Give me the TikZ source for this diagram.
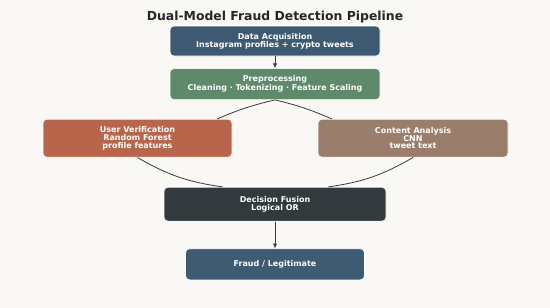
\documentclass[tikz,border=0pt]{standalone}
\usepackage{fontspec}
\setmainfont{DejaVu Sans}
\usepackage{xcolor}
\usepackage{tikz}
\usetikzlibrary{arrows.meta, positioning, calc}
\definecolor{bgcream}{RGB}{249, 248, 245}
\definecolor{acqblue}{RGB}{62, 90, 115}
\definecolor{prepgreen}{RGB}{94, 138, 107}
\definecolor{userorange}{RGB}{184, 102, 75}
\definecolor{contentbrown}{RGB}{154, 125, 107}
\definecolor{fusiondark}{RGB}{50, 58, 62}
\definecolor{outblue}{RGB}{63, 91, 114}
\definecolor{linegray}{RGB}{58, 58, 58}

\begin{document}
\begin{tikzpicture}[
    x=1pt, y=-1pt,
    block/.style={rectangle, draw=white, line width=0.6pt, rounded corners=4pt, text=white, inner sep=0pt, align=center, font=\fontsize{8}{7.8}\selectfont\bfseries},
    arrow/.style={-{Latex[length=5pt,width=4.5pt]}, line width=0.9pt, color=linegray},
    link/.style={line width=0.8pt, color=linegray}
]
    \fill[bgcream] (0,0) rectangle (550,308);
    \useasboundingbox (0,0) rectangle (550,308);

    \node[font=\fontsize{12.4}{14}\selectfont\bfseries, text=black!85] (title) at (275,17) {Dual-Model Fraud Detection Pipeline};

    \node[block, fill=acqblue, minimum width=210pt, minimum height=30pt] (acq) at (275,41) {Data Acquisition\\Instagram profiles + crypto tweets};
    \node[block, fill=prepgreen, minimum width=210pt, minimum height=31pt, below=12pt of acq] (prep) {Preprocessing\\Cleaning · Tokenizing · Feature Scaling};
    \node[block, fill=userorange, minimum width=189pt, minimum height=38pt, below=19pt of prep, xshift=-137.5pt] (uver) {User Verification\\Random Forest\\profile features};
    \node[block, fill=contentbrown, minimum width=190pt, minimum height=38pt, below=19pt of prep, xshift=138pt] (cont) {Content Analysis\\CNN\\tweet text};
    \node[block, fill=fusiondark, minimum width=222pt, minimum height=34pt, below=87pt of prep] (fus) {Decision Fusion\\Logical OR};
    \node[block, fill=outblue, minimum width=179pt, minimum height=31pt, below=27pt of fus] (out) {Fraud / Legitimate};

    \draw[arrow] (acq) -- (prep);
    \draw[link] (prep.south) to[bend right=5] ($(uver.north east)+(-15pt,0)$);
    \draw[link] (prep.south) to[bend left=5] ($(cont.north west)+(14pt,0)$);
    \draw[link] (uver.south) to[bend right=11] ($(fus.north west)+(59pt,0)$);
    \draw[link] (cont.south) to[bend left=11] ($(fus.north east)+(-58pt,0)$);
    \draw[arrow] (fus) -- (out);
\end{tikzpicture}
\end{document}
